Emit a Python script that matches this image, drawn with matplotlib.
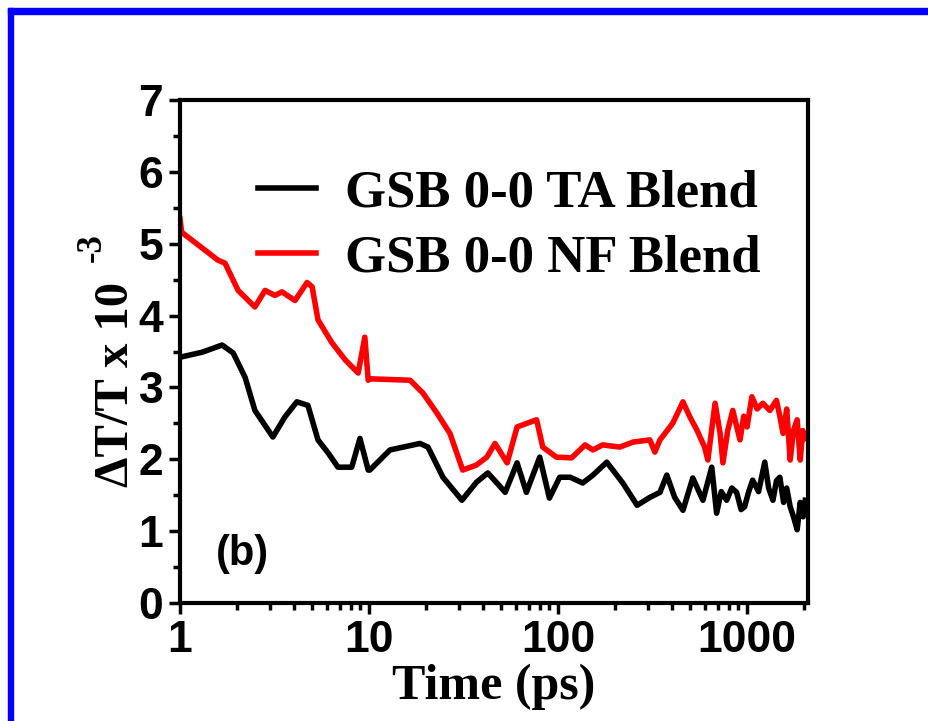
import matplotlib.pyplot as plt
from matplotlib.patches import Rectangle

# GSB 0-0 TA Blend (black)
t_ta = [1.0, 1.31, 1.67, 1.91, 2.21, 2.49, 3.1, 3.59, 4.15, 4.75, 5.37, 6.07, 6.85, 8.1,
        8.95, 9.9, 10.1, 12.9, 18.6, 20.5, 24.6, 31, 37, 42.5, 47.5, 52.5, 60.7, 68, 80,
        90, 102, 116, 135, 153, 181, 220, 262, 306, 346, 376, 414, 458, 516, 584, 650,
        690, 730, 780, 830, 880, 930, 970, 1020, 1070, 1150, 1240, 1300, 1370, 1430,
        1490, 1560, 1620, 1690, 1760, 1840, 1910, 1980, 2030]
y_ta = [3.42, 3.49, 3.59, 3.48, 3.14, 2.68, 2.31, 2.59, 2.80, 2.75, 2.27, 2.09, 1.89, 1.89,
        2.29, 1.85, 1.85, 2.13, 2.22, 2.17, 1.75, 1.43, 1.68, 1.81, 1.67, 1.54, 1.95, 1.54,
        2.03, 1.46, 1.75, 1.75, 1.67, 1.78, 1.96, 1.67, 1.36, 1.47, 1.54, 1.78, 1.47, 1.29,
        1.74, 1.43, 1.89, 1.25, 1.55, 1.43, 1.60, 1.54, 1.30, 1.34, 1.55, 1.71, 1.55, 1.96,
        1.60, 1.43, 1.70, 1.75, 1.40, 1.60, 1.34, 1.20, 1.02, 1.40, 1.20, 1.43]

# GSB 0-0 NF Blend (red)
t_nf = [1.0, 1.02, 1.59, 1.73, 2.03, 2.49, 2.82, 3.18, 3.46, 4.06, 4.7, 5.0, 5.37, 6.37,
        7.5, 8.76, 9.5, 9.9, 10.1, 16.5, 19.3, 22.9, 26.8, 31.3, 37, 42, 46.4, 53.8, 60.7,
        77, 83, 98, 118, 139, 153, 172, 212, 250, 306, 325, 346, 404, 458, 498, 542, 596,
        620, 677, 720, 745, 790, 840, 917, 960, 1000, 1060, 1130, 1210, 1320, 1430, 1490,
        1550, 1620, 1690, 1760, 1840, 1910, 1970, 2030]
y_nf = [5.35, 5.16, 4.77, 4.73, 4.35, 4.12, 4.35, 4.28, 4.33, 4.21, 4.46, 4.40, 3.94, 3.62,
        3.38, 3.20, 3.70, 3.10, 3.12, 3.10, 2.92, 2.64, 2.36, 1.85, 1.92, 2.03, 2.22, 1.95,
        2.45, 2.55, 2.17, 2.03, 2.02, 2.20, 2.13, 2.20, 2.17, 2.24, 2.27, 2.10, 2.27, 2.50,
        2.80, 2.59, 2.41, 2.17, 1.99, 2.78, 2.36, 1.95, 2.40, 2.68, 2.27, 2.60, 2.45, 2.87,
        2.70, 2.78, 2.68, 2.82, 2.60, 2.36, 2.70, 1.99, 2.40, 2.55, 1.99, 2.40, 2.29]

W, H = 929, 721
fig = plt.figure(figsize=(W / 100, H / 100), dpi=100)

# blue frame (top and left edges)
fig.patches.append(Rectangle((8 / W, 0), 5 / W, 1 - 8 / H, transform=fig.transFigure,
                             color="#0000ff", zorder=10))
fig.patches.append(Rectangle((8 / W, 1 - 14 / H), 1, 6 / H, transform=fig.transFigure,
                             color="#0000ff", zorder=10))

ax = fig.add_axes([180 / W, 1 - 603 / H, 628 / W, 503 / H])
ax.plot(t_ta, y_ta, color="black", lw=4, label="GSB 0-0 TA Blend")
ax.plot(t_nf, y_nf, color="#ff0000", lw=4, label="GSB 0-0 NF Blend")

ax.set_xscale("log")
ax.set_xlim(1, 2100)
ax.set_ylim(0, 7)
ax.set_yticks(range(8))
ax.set_yticks([i + 0.5 for i in range(7)], minor=True)
ax.set_xticks([1, 10, 100, 1000])
ax.set_xticklabels(["1", "10", "100", "1000"])

for s in ax.spines.values():
    s.set_linewidth(3)
ax.tick_params(which="both", direction="out", width=2.5, top=False, right=False)
ax.tick_params(which="major", length=8, pad=4)
ax.tick_params(which="minor", length=5)
for lab in ax.get_xticklabels() + ax.get_yticklabels():
    lab.set_fontfamily("Liberation Sans")
    lab.set_fontweight("bold")
    lab.set_fontsize(32)

serif = dict(family="Liberation Serif", weight="bold")
ax.set_xlabel("Time (ps)", fontsize=36, labelpad=2, **serif)

# y label: main part plus a raised "-3"
fig.text(116 / W, 1 - 384 / H, "ΔT/T x 10", rotation=90, ha="center", va="center",
         fontsize=35, **serif)
fig.text(92 / W, 1 - 248 / H, "-3", rotation=90, ha="center", va="center",
         fontsize=25, **serif)

ax.text(0.10, 0.097, "(b)", transform=ax.transAxes, family="Liberation Sans",
        weight="bold", fontsize=30, ha="center", va="center")

leg = ax.legend(loc="upper left", bbox_to_anchor=(0.082, 0.915), frameon=False,
                prop={"family": "Liberation Serif", "weight": "bold", "size": 38},
                handlelength=1.1, handletextpad=0.55, labelspacing=0.33, borderpad=0)

fig.savefig("out.png", dpi=100)
